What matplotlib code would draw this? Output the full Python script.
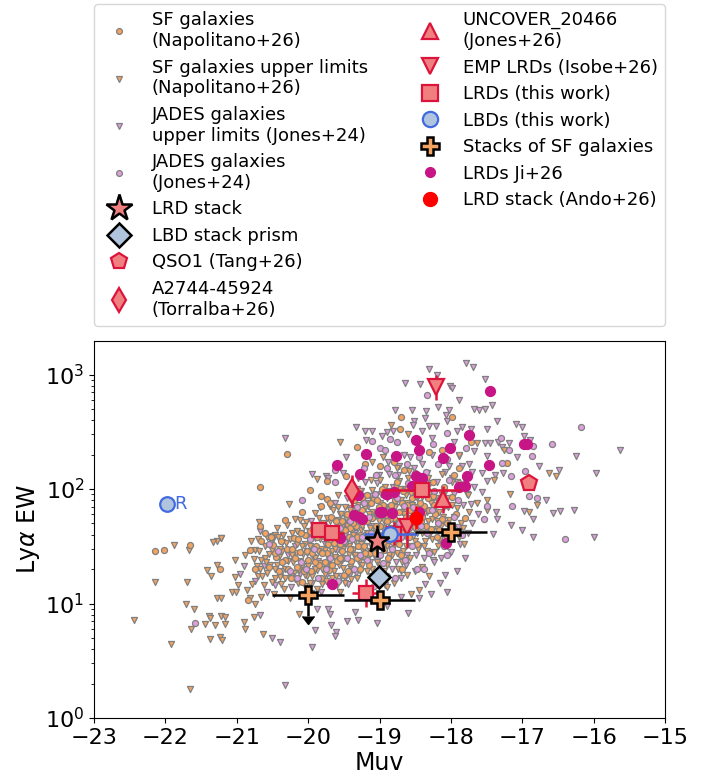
import matplotlib
matplotlib.use("Agg")
import matplotlib.pyplot as plt
from matplotlib.lines import Line2D

# (Muv, log10 EW)
sf_limits = [(-22.44,.86),(-22.15,1.19),(-21.88,1.51),(-21.67,1.47),(-21.70,1.19),(-21.71,1.00),(-21.60,.95),(-21.92,.65),(-21.66,.25),(-21.64,.78),(-21.44,.82),(-21.39,.89),(-21.37,.87),(-21.30,.81),(-21.22,.89),(-21.17,.88),(-21.17,.82),(-21.37,.69),(-21.24,.71),(-21.20,.68),(-21.42,1.29),(-21.36,1.24),(-21.28,1.34),(-21.28,1.55),(-21.22,1.57),(-21.27,1.05),(-21.22,1.05),(-21.03,1.38),(-20.89,1.42),(-21.03,1.23),(-20.98,1.16),(-21.07,1.10),(-21.01,1.10),(-20.90,.84),(-20.89,.78),(-20.76,.88),(-20.63,.73),(-20.13,.91),
(-20.27,1.87),(-19.56,2.41),(-19.88,2.09),(-19.58,1.95),(-20.69,1.71),(-20.46,1.60),(-21.22,1.57),(-21.33,1.54),(-18.84,2.56),(-18.60,2.48),(-17.63,2.40),(-17.25,2.34),(-16.62,2.14),(-16.53,2.11),(-17.17,1.96),(-17.49,1.90),(-16.91,1.80),(-16.80,1.86),(-17.49,1.82),(-17.89,2.30),(-17.64,1.88),(-17.76,1.95),(-17.91,1.83),(-17.40,2.08),
(-20.85,1.12),(-20.82,1.05),(-20.78,1.17),(-20.74,1.00),(-20.70,1.24),(-20.66,1.06),(-20.62,1.16),(-20.80,1.55),(-20.74,1.47),(-20.70,1.56),(-20.66,1.38),(-20.60,1.50),(-20.58,1.27),(-20.55,1.43),(-20.51,1.19),(-20.48,1.08),(-20.44,1.34),(-20.42,1.58),(-20.40,1.23),(-20.37,1.46),(-20.34,1.13),(-20.31,1.53),(-20.28,1.37),(-20.25,1.05),(-20.22,1.62),(-20.20,1.27),(-20.17,1.44),(-20.14,1.18),(-20.11,1.73),(-20.08,1.33),(-20.05,1.52),(-20.02,1.24),(-19.99,1.63),(-19.96,1.09),(-19.93,1.41),(-19.90,1.79),(-19.87,1.29),(-19.84,1.56),(-19.81,1.17),(-19.79,1.70),(-19.76,1.47),(-19.73,1.34),(-19.70,1.85),(-19.67,1.22),(-19.65,1.60),(-19.62,1.41),(-19.59,1.73),(-19.56,1.10),(-19.54,1.52),(-19.51,1.31),(-19.48,1.84),(-19.45,1.65),(-19.43,1.43),(-19.40,1.21),(-19.37,1.74),(-19.35,1.55),(-19.32,1.93),(-19.29,1.36),(-19.26,1.64),(-19.24,1.48),(-19.21,1.83),(-19.18,1.28),(-19.16,1.71),(-19.13,1.57),(-19.10,1.99),(-19.08,1.42),(-19.05,1.78),(-19.03,1.63),(-19.00,1.88),(-18.97,1.50),(-18.94,1.72),(-18.92,2.02),(-18.89,1.34),(-18.86,1.83),(-18.83,1.57),(-18.80,1.93),(-18.77,1.69),(-18.75,1.44),(-18.72,2.07),(-18.69,1.80),(-18.66,1.60),(-18.63,1.95),(-18.60,1.70),(-18.57,1.40),(-18.54,1.86),(-18.50,2.02),(-18.47,1.62),(-18.44,1.78),(-18.40,1.93),(-18.36,1.55),(-18.32,1.72),(-18.28,1.88),(-18.24,1.45),(-18.20,1.65),(-18.16,1.80),(-18.12,1.95),(-18.08,1.58),(-18.03,1.73),(-17.98,1.86),(-17.92,1.62),(-17.86,1.70),(-17.81,1.52),(-17.75,1.80),(-18.70,1.28),(-18.62,1.25),(-18.40,1.32),(-18.30,1.24),(-18.90,1.14),(-18.80,1.18),(-18.56,1.08),(-18.45,1.12),(-19.10,2.24),(-18.95,2.28),(-18.75,2.18),(-18.58,2.16),(-18.32,2.10),(-18.12,2.13),(-17.99,2.06),(-17.80,2.08),(-19.30,2.10),(-19.12,2.08)]
sf_limits_core = [(-20.72,1.33),(-20.69,1.46),(-20.64,1.24),(-20.61,1.40),(-20.57,1.58),(-20.53,1.34),(-20.50,1.47),(-20.47,1.22),(-20.43,1.66),(-20.41,1.41),(-20.38,1.17),(-20.36,1.54),(-20.33,1.30),(-20.30,1.69),(-20.27,1.46),(-20.24,1.24),(-20.21,1.36),(-20.19,1.74),(-20.16,1.52),(-20.13,1.29),(-20.10,1.62),(-20.07,1.43),(-20.05,1.15),(-20.03,1.71),(-20.00,1.33),(-19.97,1.50),(-19.95,1.24),(-19.92,1.65),(-19.90,1.40),(-19.88,1.13),(-19.85,1.75),(-19.82,1.48),(-19.80,1.30),(-19.78,1.60),(-19.75,1.20),(-19.73,1.52),(-19.71,1.38),(-19.69,1.72),(-19.66,1.46),(-19.64,1.28),(-19.62,1.62),(-19.60,1.16),(-19.58,1.84),(-19.55,1.38),(-19.53,1.67),(-19.51,1.48),(-19.49,1.22),(-19.47,1.75),(-19.44,1.56),(-19.42,1.32),(-19.40,1.90),(-19.38,1.63),(-19.36,1.42),(-19.33,1.78),(-19.31,1.22),(-19.29,1.58),(-19.27,1.98),(-19.25,1.34),(-19.23,1.73),(-19.20,1.50),(-19.18,1.88),(-19.16,1.40),(-19.14,1.66),(-19.12,1.24),(-19.10,1.80),(-19.07,1.50),(-19.05,1.95),(-19.03,1.36),(-19.01,1.72),(-18.99,2.08),(-18.96,1.60),(-18.94,1.28),(-18.92,1.84),(-18.90,1.50),(-18.87,1.72),(-18.85,1.98),(-18.83,1.42),(-18.80,1.62),(-18.78,1.84),(-18.76,1.54),(-18.74,1.30),(-18.71,2.00),(-18.69,1.66),(-18.67,1.46),(-18.64,1.82),(-18.62,1.56),(-18.60,2.10),(-18.57,1.75),(-18.55,1.50),(-18.52,1.66),(-18.49,1.84),(-18.46,1.48),(-18.43,2.00),(-18.40,1.62),(-18.37,1.78),(-18.34,1.46),(-18.30,1.96),(-18.26,1.56),(-18.22,1.84),(-18.18,1.50),(-18.14,1.68),(-18.10,1.84),(-18.05,1.50),(-18.00,1.62),(-17.95,1.76),(-17.88,1.58),(-17.83,1.66)]
sf_limits_dense = [(-20.76,1.39),(-20.67,1.30),(-20.59,1.36),(-20.52,1.55),(-20.46,1.30),(-20.40,1.48),(-20.35,1.60),(-20.32,1.22),(-20.26,1.56),(-20.23,1.42),(-20.18,1.21),(-20.15,1.63),(-20.12,1.37),(-20.09,1.50),(-20.06,1.68),(-20.04,1.25),(-20.01,1.44),(-19.98,1.18),(-19.94,1.57),(-19.91,1.30),(-19.89,1.68),(-19.86,1.46),(-19.83,1.35),(-19.80,1.63),(-19.77,1.26),(-19.74,1.75),(-19.72,1.42),(-19.70,1.58),(-19.68,1.33),(-19.65,1.82),(-19.63,1.48),(-19.61,1.24),(-19.59,1.56),(-19.57,1.34),(-19.54,1.78),(-19.52,1.60),(-19.50,1.40),(-19.48,1.18),(-19.46,1.68),(-19.43,1.50),(-19.41,1.82),(-19.39,1.30),(-19.37,1.60),(-19.35,1.42),(-19.32,1.70),(-19.30,1.86),(-19.28,1.28),(-19.26,1.52),(-19.24,1.68),(-19.22,1.40),(-19.20,1.94),(-19.18,1.62),(-19.15,1.78),(-19.13,1.46),(-19.11,1.30),(-19.09,1.90),(-19.07,1.64),(-19.04,1.48),(-19.02,1.80),(-19.00,1.34),(-18.98,1.96),(-18.95,1.66),(-18.93,1.52),(-18.91,1.76),(-18.89,1.92),(-18.86,1.42),(-18.84,1.66),(-18.82,1.80),(-18.79,1.50),(-18.77,2.02),(-18.75,1.72),(-18.73,1.60),(-18.70,1.90),(-18.68,1.36),(-18.65,1.78),(-18.63,1.50),(-18.61,1.88),(-18.58,1.64),(-18.56,1.96),(-18.53,1.78),(-18.50,1.55),(-18.47,1.92),(-18.44,1.66),(-18.41,1.84),(-18.38,1.50),(-18.35,1.94),(-18.31,1.60),(-18.27,1.74),(-18.23,1.96),(-18.19,1.72),(-18.15,1.56),(-18.11,1.76),(-18.06,1.92)]

sf_points = [(-22.15,1.46),(-21.66,1.51),(-21.24,1.30),(-20.82,1.47),(-20.66,1.55),(-20.52,1.59),(-20.74,1.30),(-20.84,1.03),(-22.02,1.47),(-20.29,2.31),(-20.67,2.02),(-19.32,2.37),(-19.97,1.99),(-20.09,1.80),(-20.32,1.73),(-19.74,2.07),(-19.47,2.11),(-19.73,1.91),(-19.69,1.88),(-19.82,1.94),(-19.82,1.85),(-20.68,1.68),(-20.52,1.58),(-18.71,2.52),(-18.70,2.63),(-17.99,2.63),(-17.21,2.23),(-17.89,2.18),(-18.30,2.32),(-17.72,2.41),(-18.12,2.34),
(-20.60,1.62),(-20.55,1.32),(-20.49,1.51),(-20.45,1.41),(-20.41,1.28),(-20.38,1.55),(-20.33,1.38),(-20.30,1.48),(-20.24,1.22),(-20.20,1.57),(-20.16,1.32),(-20.12,1.45),(-20.08,1.19),(-20.04,1.60),(-20.00,1.38),(-19.96,1.28),(-19.93,1.66),(-19.89,1.50),(-19.85,1.34),(-19.82,1.22),(-19.78,1.59),(-19.74,1.44),(-19.71,1.29),(-19.68,1.76),(-19.64,1.53),(-19.60,1.37),(-19.57,1.68),(-19.53,1.46),(-19.50,1.25),(-19.46,1.78),(-19.43,1.58),(-19.40,1.37),(-19.36,1.90),(-19.33,1.68),(-19.30,1.50),(-19.27,1.30),(-19.24,1.82),(-19.20,1.60),(-19.17,1.95),(-19.14,1.44),(-19.11,1.75),(-19.07,1.55),(-19.04,1.90),(-19.00,1.68),(-18.97,2.00),(-18.94,1.47),(-18.90,1.80),(-18.87,1.62),(-18.83,1.95),(-18.80,1.75),(-18.76,2.06),(-18.72,1.52),(-18.69,1.88),(-18.65,1.70),(-18.61,2.00),(-18.57,1.82),(-18.54,1.60),(-18.50,1.94),(-18.46,2.08),(-18.42,1.72),(-18.38,1.85),(-18.33,2.00),(-18.28,1.65),(-18.22,1.78),(-18.16,1.90),(-18.10,2.02),(-18.05,1.70),(-17.98,1.93),(-17.88,2.05),(-17.80,1.75),(-19.00,2.20),(-18.80,2.24),(-18.66,2.17),(-18.50,2.14),(-18.25,2.06),(-19.20,2.22),(-17.95,2.12),(-18.69,1.30)]
sf_points_core = [(-20.47,1.44),(-20.28,1.30),(-20.22,1.48),(-20.14,1.56),(-20.06,1.28),(-20.02,1.46),(-19.98,1.63),(-19.91,1.36),(-19.87,1.58),(-19.80,1.44),(-19.76,1.68),(-19.72,1.52),(-19.66,1.34),(-19.62,1.60),(-19.55,1.40),(-19.52,1.72),(-19.48,1.54),(-19.44,1.28),(-19.41,1.66),(-19.38,1.48),(-19.34,1.82),(-19.31,1.40),(-19.28,1.60),(-19.25,1.92),(-19.22,1.50),(-19.18,1.72),(-19.15,1.34),(-19.12,1.88),(-19.09,1.62),(-19.06,1.44),(-19.03,1.78),(-18.98,1.56),(-18.95,1.86),(-18.92,1.64),(-18.88,1.40),(-18.85,1.74),(-18.81,1.54),(-18.78,1.90),(-18.74,1.64),(-18.70,1.42),(-18.67,1.98),(-18.63,1.76),(-18.59,1.58),(-18.55,1.92),(-18.51,1.72),(-18.47,1.52),(-18.43,1.88),(-18.39,2.04),(-18.35,1.68),(-18.30,1.82),(-18.25,1.94),(-18.19,1.58),(-18.13,1.74),(-18.07,1.86),(-18.01,1.56),(-17.93,1.78)]
sf_points_dense = [(-20.36,1.36),(-20.18,1.40),(-20.10,1.62),(-19.95,1.44),(-19.84,1.64),(-19.77,1.36),(-19.69,1.56),(-19.61,1.72),(-19.56,1.52),(-19.49,1.64),(-19.42,1.48),(-19.37,1.70),(-19.32,1.58),(-19.26,1.74),(-19.21,1.44),(-19.16,1.62),(-19.10,1.52),(-19.05,1.68),(-19.01,1.84),(-18.93,1.58),(-18.89,1.72),(-18.84,1.86),(-18.79,1.66),(-18.73,1.80),(-18.68,1.62),(-18.62,1.86),(-18.56,1.70),(-18.48,1.80),(-18.40,1.76),(-18.32,1.92),(-18.24,1.86),(-18.17,1.64)]

jades_limits = [(-20.33,2.45),(-19.47,2.28),(-19.33,2.54),(-19.20,2.51),(-19.10,2.51),(-19.19,2.43),(-19.95,2.13),(-19.75,2.11),(-19.72,2.10),(-19.51,2.14),(-20.95,1.26),(-20.67,.90),(-20.50,.70),(-20.39,.66),(-20.32,.29),(-19.94,.62),(-19.90,.77),(-19.68,.81),(-19.61,.75),(-19.62,.72),(-19.46,.85),(-19.30,.86),(-19.03,.83),(-19.34,.93),(-19.69,.91),(-19.72,.95),(-19.88,.95),(-20.68,1.63),
(-18.31,3.05),(-17.79,3.10),(-17.69,3.07),(-18.20,3.00),(-18.64,2.93),(-18.43,2.92),(-17.52,2.96),(-18.01,2.90),(-17.98,2.88),(-17.89,2.78),(-18.18,2.72),(-17.67,2.70),(-17.60,2.69),(-17.52,2.70),(-17.43,2.73),(-18.78,2.69),(-18.55,2.69),(-18.35,2.68),(-18.36,2.62),(-18.07,2.65),(-18.02,2.69),(-18.06,2.59),(-17.35,2.59),(-17.09,2.57),(-17.01,2.54),(-17.49,2.52),(-17.85,2.54),(-17.92,2.51),(-18.21,2.55),(-18.31,2.55),(-18.51,2.59),(-18.40,2.51),(-18.81,2.51),(-18.90,2.50),(-18.53,2.56),(-18.96,2.46),(-18.26,2.45),(-17.95,2.41),(-17.72,2.52),(-17.52,2.40),(-17.45,2.40),(-17.34,2.41),(-17.18,2.40),(-17.28,2.37),(-17.08,2.28),(-16.77,2.20),(-16.25,2.29),(-15.63,2.34),(-15.96,2.14),(-16.48,2.17),(-16.97,2.46),(-16.89,2.43),(-17.68,2.33),(-17.50,2.29),(-17.89,2.29),(-18.08,2.15),(-17.99,2.10),(-17.70,2.15),(-17.57,2.14),(-17.49,2.07),(-17.38,2.12),(-17.27,2.14),(-17.57,1.97),(-16.67,1.90),(-16.97,1.81),(-16.57,1.79),(-16.47,1.81),(-16.27,1.82),(-16.85,1.74),(-17.16,1.69),(-17.00,1.64),(-17.37,1.80),(-17.35,1.74),(-17.41,1.61),(-16.85,1.58),(-15.99,1.58),(-17.72,1.87),(-17.62,1.78),(-17.70,1.70),
(-20.90,1.33),(-20.75,1.20),(-20.62,1.33),(-20.58,1.10),(-20.50,1.55),(-20.46,1.16),(-20.36,1.28),(-20.28,1.42),(-20.24,1.14),(-20.18,1.50),(-20.12,1.26),(-20.06,1.08),(-20.01,1.46),(-19.95,1.18),(-19.90,1.57),(-19.86,1.37),(-19.82,1.10),(-19.77,1.52),(-19.73,1.26),(-19.68,1.65),(-19.64,1.15),(-19.60,1.47),(-19.56,1.78),(-19.52,1.38),(-19.48,1.60),(-19.44,1.17),(-19.40,1.83),(-19.37,1.47),(-19.33,1.27),(-19.30,1.72),(-19.26,1.98),(-19.23,1.55),(-19.19,1.13),(-19.16,1.85),(-19.13,1.36),(-19.09,1.68),(-19.06,1.22),(-19.03,2.05),(-19.00,1.50),(-18.96,1.80),(-18.92,1.16),(-18.89,1.60),(-18.86,2.13),(-18.83,1.30),(-18.79,1.85),(-18.76,1.53),(-18.73,2.20),(-18.70,1.22),(-18.67,1.70),(-18.64,2.00),(-18.61,1.42),(-18.57,2.28),(-18.54,1.75),(-18.50,1.28),(-18.47,1.98),(-18.44,1.50),(-18.40,2.22),(-18.36,1.17),(-18.33,1.80),(-18.29,2.05),(-18.25,1.38),(-18.21,1.92),(-18.17,1.55),(-18.12,2.25),(-18.08,1.25),(-18.04,1.84),(-18.00,1.45),(-17.95,1.96),(-17.90,1.67),(-17.85,2.20),(-17.80,1.40),(-17.76,1.62),(-19.12,1.02),(-18.90,.98),(-18.70,1.06),(-18.45,1.05),(-18.28,1.08),(-18.15,1.18),(-18.05,1.10),(-17.92,1.28),(-18.60,.92)]
jades_limits_dense = [(-19.96,1.72),(-19.84,1.84),(-19.79,1.20),(-19.62,1.88),(-19.54,1.24),(-19.50,1.70),(-19.46,1.92),(-19.41,1.26),(-19.35,1.62),(-19.31,2.00),(-19.25,1.42),(-19.21,2.06),(-19.14,1.94),(-19.11,1.52),(-19.04,1.38),(-19.01,2.12),(-18.97,1.28),(-18.93,1.96),(-18.88,2.24),(-18.84,1.48),(-18.81,2.02),(-18.77,1.36),(-18.74,2.12),(-18.71,1.56),(-18.66,2.30),(-18.63,1.34),(-18.59,1.84),(-18.52,2.18),(-18.49,1.42),(-18.42,2.06),(-18.38,1.40),(-18.34,2.14),(-18.30,1.60),(-18.27,2.30),(-18.23,1.36),(-18.19,2.06),(-18.14,1.40),(-18.10,1.96),(-18.06,1.56),(-18.02,2.20),(-17.97,1.62),(-17.92,2.06),(-17.87,1.52),(-17.83,1.86),(-17.78,1.96),(-17.74,2.22),(-17.67,2.02)]

jades_points = [(-21.58,.83),(-20.09,1.90),(-19.63,2.17),(-19.63,2.06),(-18.34,2.82),(-16.18,2.54),(-16.59,2.39),(-16.86,2.29),(-16.96,2.16),(-17.30,2.45),(-17.18,2.34),(-17.29,2.23),(-17.16,2.11),(-16.90,1.94),(-16.80,1.92),(-17.15,1.85),(-17.50,1.85),(-17.53,1.74),(-16.40,1.56),(-18.75,2.41),(-17.79,2.36),(-18.06,2.49),(-18.25,2.39),(-16.85,2.38),(-19.10,2.42),(-19.00,2.36),(-18.92,2.34),(-18.85,2.44),
(-20.55,1.52),(-20.26,1.28),(-20.10,1.36),(-19.98,1.56),(-19.86,1.22),(-19.80,1.65),(-19.70,1.40),(-19.58,1.20),(-19.50,1.55),(-19.42,1.72),(-19.36,1.30),(-19.28,1.42),(-19.22,1.88),(-19.12,1.62),(-19.08,1.15),(-19.02,1.78),(-18.95,1.35),(-18.88,1.95),(-18.82,1.48),(-18.78,1.22),(-18.72,1.70),(-18.66,1.85),(-18.60,2.05),(-18.55,1.50),(-18.48,1.30),(-18.42,1.68),(-18.35,2.15),(-18.30,1.44),(-18.24,1.98),(-18.18,1.70),(-18.10,1.50),(-18.02,2.08),(-17.96,1.76),(-17.85,1.60),(-18.78,2.12),(-18.62,2.22),(-18.45,2.28),(-18.18,2.22),(-18.05,2.26),(-19.22,2.18),(-19.05,2.12),(-18.90,2.18)]
jades_points_dense = [(-20.42,1.46),(-20.16,1.22),(-20.03,1.30),(-19.92,1.48),(-19.75,1.30),(-19.66,1.58),(-19.55,1.66),(-19.46,1.40),(-19.39,1.56),(-19.32,1.84),(-19.25,1.58),(-19.18,1.38),(-19.15,1.76),(-19.06,1.96),(-19.00,1.42),(-18.94,1.60),(-18.90,1.24),(-18.84,1.78),(-18.76,1.92),(-18.70,1.58),(-18.64,1.38),(-18.58,1.66),(-18.53,1.84),(-18.44,1.98),(-18.38,1.30),(-18.33,1.62),(-18.26,1.82),(-18.14,1.92),(-18.06,1.42),(-17.98,1.66),(-17.90,1.90)]

ji_muv = [-17.45,-17.74,-18.49,-18.45,-18.01,-18.11,-18.77,-17.47,-16.98,-16.93,-17.78,-18.49,-18.40,-17.89,-17.80,-18.55,-18.90,-18.80,-18.97,-18.82,-18.44,-19.60,-19.19,-19.27,-19.30,-18.91,-19.36,-19.29,-19.24,-18.99,-19.67,-19.55,-18.07]
ji_log = [2.86,2.47,2.43,2.34,2.36,2.27,2.29,2.21,2.39,2.39,2.11,2.11,2.10,2.02,2.03,2.03,1.96,1.97,1.80,1.79,1.80,2.21,2.31,2.13,1.95,1.96,1.77,1.76,1.74,1.80,1.17,1.57,1.53]

lrd_muv = [-19.85,-19.67,-18.41,-19.19,-18.80]
lrd_log = [1.64,1.62,1.99,1.09,1.61]
lrd_xerr = [0.12,0.17,0.55,0.20,0.05]
lrd_yerr = [0.03,0.03,0.02,0.12,0.10]
lbd_muv = [-21.98,-18.85]
lbd_log = [1.87,1.61]

star_xy = (-19.03,1.55)
lbd_stack_xy = (-19.01,1.23)
qso1_xy = (-16.90,2.05)
a2744_xy = (-19.39,1.985)
uncover_xy = (-18.11,1.91)
emp_muv = [-18.21,-18.61]
emp_log = [2.89,1.665]
ando_xy = (-18.49,1.75)
stack_muv = [-20.0,-19.0,-18.0]
stack_log = [1.077,1.03,1.624]

labels = ["SF galaxies\n(Napolitano+26)","SF galaxies upper limits\n(Napolitano+26)","JADES galaxies\nupper limits (Jones+24)","JADES galaxies\n(Jones+24)","LRD stack","LBD stack prism","QSO1 (Tang+26)","A2744-45924\n(Torralba+26)","UNCOVER_20466\n(Jones+26)","EMP LRDs (Isobe+26)","LRDs (this work)","LBDs (this work)","Stacks of SF galaxies","LRDs Ji+26","LRD stack (Ando+26)"]

ORANGE = "#f4a460"; PLUM = "#dda0dd"; PINK = "#f08080"; CRIM = "#dc143c"
BLUE = "#b0c4de"; ROYAL = "#4169e1"; MAG = "#c71585"

def ew(v):
    return [10**a for a in v]

def pts(p):
    return [a for a, _ in p], ew([b for _, b in p])

def asym(v, e):
    return [[10**v - 10**(v-e)], [10**(v+e) - 10**v]]

fig = plt.figure(figsize=(7.13, 7.77), dpi=100)
W, H = 713, 777
ax = fig.add_axes([94/W, 1-718/H, (665-94)/W, (718-341)/H])
ax.set_yscale("log")
ax.set_xlim(-23, -15)
ax.set_ylim(1, 10**3.293)

small = dict(edgecolors="gray", linewidths=0.9, s=19)
ax.scatter(*pts(jades_limits + jades_limits_dense), c=PLUM, marker="v", zorder=2.0, **small)
ax.scatter(*pts(sf_limits + sf_limits_core + sf_limits_dense), c=ORANGE, marker="v", zorder=2.1, **small)
ax.scatter(*pts(sf_points + sf_points_core + sf_points_dense), c=ORANGE, marker="o", zorder=2.2, **small)
ax.scatter(*pts(jades_points + jades_points_dense), c=PLUM, marker="o", zorder=2.3, **small)
ax.scatter(ji_muv, ew(ji_log), c=MAG, s=50, marker="o", zorder=3)

big = dict(mfc=PINK, mec=CRIM, mew=1.6, ecolor=CRIM, elinewidth=1.8, ls="none", zorder=4)

for m, l, xe, ye in zip(lrd_muv, lrd_log, lrd_xerr, lrd_yerr):
    ax.errorbar([m], [10**l], xerr=xe, yerr=asym(l, ye), marker="s", ms=10.5, **big)
ax.errorbar([lbd_muv[1]], [10**lbd_log[1]], xerr=0.37, marker="o", ms=10.5, mfc=BLUE, mec=ROYAL,
            mew=1.6, ecolor=ROYAL, elinewidth=1.8, ls="none", zorder=4.2)
ax.errorbar([lbd_muv[0]], [10**lbd_log[0]], marker="o", ms=10.5, mfc=BLUE, mec=ROYAL, mew=1.6, ls="none", zorder=4.2)
ax.text(-21.88, 10**lbd_log[0], "R", color=ROYAL, fontsize=13, va="center", ha="left", zorder=4.2)

for m, l, ye in zip(emp_muv, emp_log, [0.11, 0.18]):
    ax.errorbar([m], [10**l], yerr=asym(l, ye), marker="v", ms=11, **big)
ax.errorbar([uncover_xy[0]], [10**uncover_xy[1]], yerr=asym(uncover_xy[1], 0.12), marker="^", ms=11, **big)
ax.errorbar([a2744_xy[0]], [10**a2744_xy[1]], yerr=asym(a2744_xy[1], 0.14), marker="d", ms=12.5, **big)
ax.errorbar([qso1_xy[0]], [10**qso1_xy[1]], marker="p", ms=12, **big)

ax.errorbar([ando_xy[0]], [10**ando_xy[1]], yerr=asym(ando_xy[1], 0.1), marker="o", ms=9, mfc="red", mec="red",
            ecolor="red", elinewidth=1.8, ls="none", zorder=4.5)

ax.errorbar([star_xy[0]], [10**star_xy[1]], yerr=asym(star_xy[1], 0.14), marker="*", ms=18, mfc=PINK, mec="k", mew=1.8,
            ecolor="k", elinewidth=1.8, ls="none", zorder=6)
ax.errorbar([lbd_stack_xy[0]], [10**lbd_stack_xy[1]], marker="D", ms=11.5, mfc=BLUE, mec="k", mew=1.8, ls="none", zorder=5.5)

for m, l in zip(stack_muv, stack_log):
    ax.errorbar([m], [10**l], xerr=0.5, marker="P", ms=12.5, mfc=ORANGE, mec="k", mew=1.8,
                ecolor="k", elinewidth=1.8, ls="none", zorder=6)
ax.errorbar([stack_muv[0]], [10**stack_log[0]], yerr=[[10**stack_log[0]*0.35], [0]], uplims=True,
            color="k", ecolor="k", elinewidth=1.8, capsize=4, ls="none", zorder=5)

ax.set_xlabel("Muv", fontsize=17, labelpad=2)
ax.set_ylabel(r"Ly$\alpha$ EW", fontsize=17, labelpad=2)
ax.tick_params(axis="both", which="major", labelsize=16)
ax.set_xticks(range(-23, -14))

def proxy(marker, ms, mfc, mec, mew):
    return Line2D([], [], ls="none", marker=marker, ms=ms, mfc=mfc, mec=mec, mew=mew)

handles = [proxy("o", 4.2, ORANGE, "gray", .9), proxy("v", 4.2, ORANGE, "gray", .9), proxy("v", 4.2, PLUM, "gray", .9),
           proxy("o", 4.2, PLUM, "gray", .9), proxy("*", 20, PINK, "k", 1.8), proxy("D", 12.5, BLUE, "k", 1.8),
           proxy("p", 12, PINK, CRIM, 1.6), proxy("d", 12.5, PINK, CRIM, 1.6), proxy("^", 11, PINK, CRIM, 1.6),
           proxy("v", 11, PINK, CRIM, 1.6), proxy("s", 11, PINK, CRIM, 1.6), proxy("o", 11, BLUE, ROYAL, 1.6),
           proxy("P", 12.5, ORANGE, "k", 1.8), proxy("o", 7, MAG, MAG, 1), proxy("o", 10, "red", "red", 1)]
leg = ax.legend(handles, labels, ncol=2, fontsize=13, loc="lower left", bbox_to_anchor=(0, 1.04, 1, 0.2),
                mode="expand", borderaxespad=0, labelspacing=0.47)
fig.savefig("out.png", dpi=100)
